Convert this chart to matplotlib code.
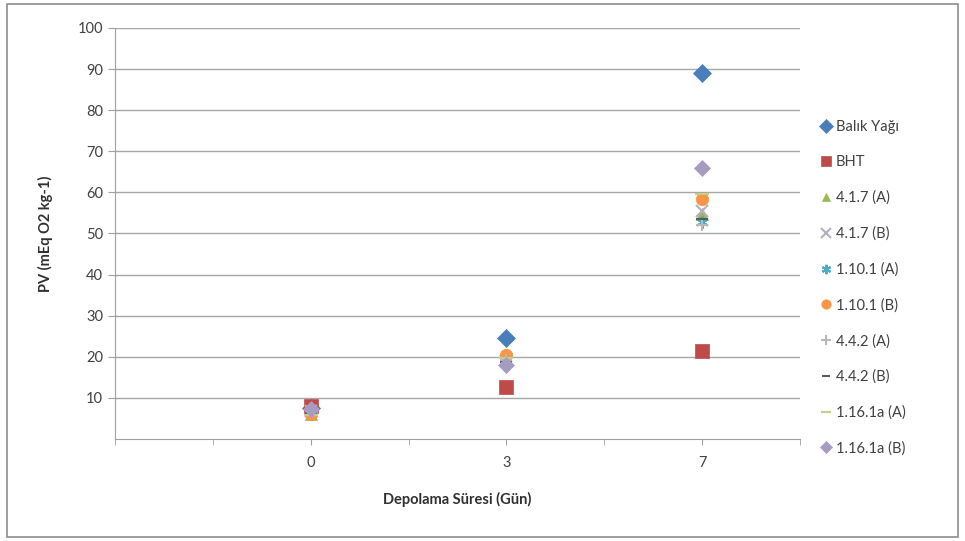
import numpy as np
import matplotlib.pyplot as plt
from matplotlib.patches import Rectangle

plt.rcParams['font.family'] = ['Lato', 'DejaVu Sans']

# storage days (categories) and peroxide values per sample
days = ['0', '3', '7']
series_names = ['Balık Yağı', 'BHT', '4.1.7 (A)', '4.1.7 (B)', '1.10.1 (A)',
                '1.10.1 (B)', '4.4.2 (A)', '4.4.2 (B)', '1.16.1a (A)', '1.16.1a (B)']
balik_yagi = [7.5, 24.6, 89.0]
bht = [8.0, 12.7, 21.4]
s417a = [6.2, 19.5, 54.8]
s417b = [6.8, 19.0, 55.5]
s1101a = [7.0, 18.6, 52.9]
s1101b = [6.0, 20.4, 58.4]
s442a = [6.5, 19.2, 52.0]
s442b = [6.4, 18.8, 53.5]
s1161aa = [5.8, 19.8, 59.6]
s1161ab = [7.2, 18.0, 65.9]

values = [balik_yagi, bht, s417a, s417b, s1101a, s1101b, s442a, s442b, s1161aa, s1161ab]
markers = ['D', 's', '^', 'x', (6, 2, 0), 'o', '+', '_', '_', 'D']
colors = ['#4A7EBB', '#BE4B48', '#98B954', '#B7AFC4', '#4BACC6', '#F79646',
          '#B8B8B8', '#5A5A5A', '#C3D08C', '#A89BC2']
sizes = [9, 10, 8, 9, 9, 9, 9, 8, 10, 8]

fig = plt.figure(figsize=(9.65, 5.41), dpi=100)
ax = fig.add_axes([115 / 965, 1 - 439 / 541, (800 - 115) / 965, (439 - 28) / 541])

x = np.arange(len(days))
for name, vals, m, c, s in zip(series_names, values, markers, colors, sizes):
    ax.plot(x, vals, linestyle='none', marker=m, color=c, markersize=s,
            markeredgewidth=1.5 if m in ('x', '+', '_') or isinstance(m, tuple) else 0.5,
            label=name)

ax.set_xlim(-1, 2.5)
ax.set_ylim(0, 100)
ax.set_xticks(x)
ax.set_xticklabels(days)
ax.set_xticks(np.arange(-1, 2.51, 0.5), minor=True)
ax.set_yticks(np.arange(10, 101, 10))
ax.tick_params(axis='x', which='both', direction='out', length=4, color='#A0A0A0')
ax.tick_params(axis='x', which='major', labelsize=10.5, pad=8, labelcolor='#404040')
ax.tick_params(axis='y', length=5, color='#A0A0A0', labelsize=10.5, labelcolor='#404040')
ax.grid(axis='y', color='#A6A6A6', linewidth=1)
ax.set_axisbelow(True)
for side in ('top', 'right'):
    ax.spines[side].set_visible(False)
for side in ('left', 'bottom'):
    ax.spines[side].set_color('#A0A0A0')

ax.set_xlabel('Depolama Süresi (Gün)', fontsize=10.5, fontweight='bold',
              color='#303030', labelpad=16)
ax.set_ylabel('PV (mEq O2 kg-1)', fontsize=10.5, fontweight='bold',
              color='#303030', labelpad=18)

leg = ax.legend(loc='center left', bbox_to_anchor=(1.01, 0.368), frameon=False,
                fontsize=10.5, labelspacing=1.47, handlelength=0.8,
                handletextpad=0.3, markerscale=0.75)
for t in leg.get_texts():
    t.set_color('#404040')

fig.patches.append(Rectangle((7 / 965, 4 / 541), 951 / 965, 533 / 541,
                             transform=fig.transFigure, fill=False,
                             edgecolor='#8C8C8C', linewidth=1.2))

fig.savefig('out.png', dpi=100)
